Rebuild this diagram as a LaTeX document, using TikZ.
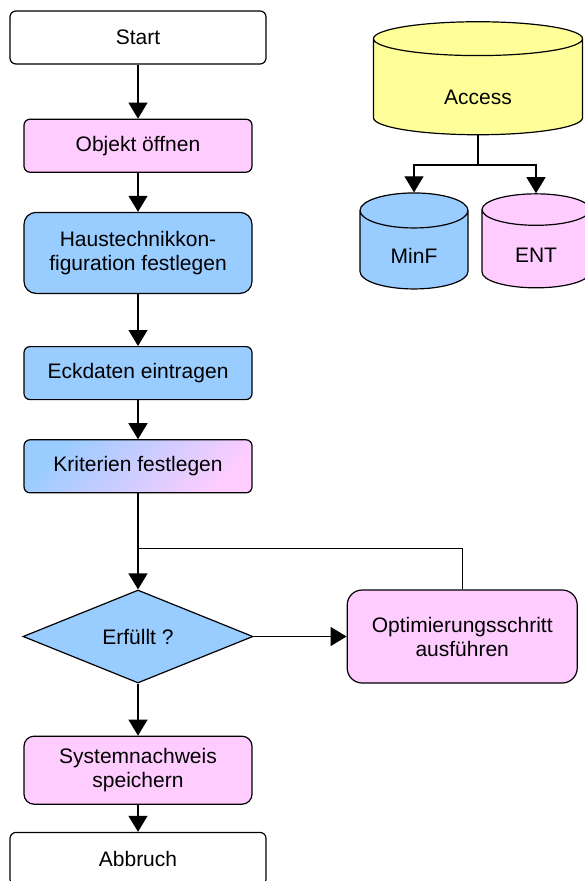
\documentclass[tikz,border=0pt]{standalone}
\usepackage{fontspec}
\setmainfont{Liberation Sans}
\usepackage{tikz}
\usetikzlibrary{arrows.meta,positioning,shapes.geometric,calc}
\definecolor{hellblau}{HTML}{99CCFF}
\definecolor{rosa}{HTML}{FFCCFF}
\definecolor{gelb}{HTML}{FFFF99}
\tikzset{
    schritt/.style={
        rectangle,
        draw,
        line width=1.2pt,
        rounded corners=6pt,
        align=center,
        inner sep=2pt,
        minimum width=228pt,
        minimum height=53pt
    },
    grenze/.style={schritt, fill=white, minimum width=256pt},
    abfrage/.style={
        diamond,
        draw,
        line width=1.2pt,
        align=center,
        inner sep=0pt,
        minimum width=230pt,
        minimum height=93pt,
        fill=hellblau
    },
    datenbank/.style={
        cylinder,
        shape border rotate=90,
        draw,
        line width=1.2pt,
        align=center,
        inner sep=0pt,
        text depth=0pt
    },
    pfeil/.style={-{Triangle[length=16pt, width=19pt]}, line width=1.2pt},
    linie/.style={line width=1.2pt}
}

\begin{document}
\begin{tikzpicture}[x=1pt, y=1pt, node distance=39pt, font=\fontsize{21}{24}\selectfont]
        \useasboundingbox (0,0) rectangle (584,-881);
        \node[grenze] (start) at (138,-37.5) {Start};
        \node[schritt, fill=rosa, below=54pt of start] (oeffnen) {Objekt öffnen};
        \node[schritt, fill=hellblau, minimum height=81pt, rounded corners=12pt,
            below=of oeffnen] (haustechnik) {Haustechnikkon-\\figuration festlegen};
        \node[schritt, fill=hellblau, below=52pt of haustechnik] (eckdaten) {Eckdaten eintragen};
        \node[schritt, top color=hellblau, bottom color=rosa, shading angle=45,
            below=of eckdaten] (kriterien) {Kriterien festlegen};
        \coordinate[below=55pt of kriterien] (rueck);
        \node[abfrage, below=96pt of kriterien] (erfuellt) {Erfüllt ?};
        \node[schritt, fill=rosa, minimum width=230pt, minimum height=93pt,
            rounded corners=15pt, right=93pt of erfuellt] (optimieren)
            {Optimierungsschritt\\ausführen};
        \node[schritt, fill=rosa, minimum height=68pt, rounded corners=10pt,
            below=52pt of erfuellt] (speichern) {Systemnachweis\\speichern};
        \node[grenze, below=27pt of speichern] (abbruch) {Abbruch};

        \node[datenbank, fill=gelb, minimum width=209pt, minimum height=113pt,
            aspect=0.5, text height=34pt] (access) at (478,-87) {Access};
        \node[datenbank, fill=hellblau, minimum width=108pt, minimum height=96pt,
            aspect=0.75, text height=26pt] (minf) at (414,-250) {MinF};
        \node[datenbank, fill=rosa, minimum width=108pt, minimum height=94pt,
            aspect=0.75, text height=26pt] (ent) at (536,-249) {ENT};
        \coordinate (verteiler) at (478,-165);

        \draw[pfeil] (start) -- (oeffnen);
        \draw[pfeil] (oeffnen) -- (haustechnik);
        \draw[pfeil] (haustechnik) -- (eckdaten);
        \draw[pfeil] (eckdaten) -- (kriterien);
        \draw[linie] (kriterien) -- (rueck);
        \draw[pfeil] (rueck) -- (erfuellt);
        \draw[pfeil] (erfuellt) -- (optimieren);
        \draw[linie] (optimieren.north) |- (rueck);
        \draw[pfeil] (erfuellt) -- (speichern);
        \draw[pfeil] (speichern) -- (abbruch);

        \draw[linie] (access.south) -- (verteiler);
        \draw[pfeil] (verteiler) -| (minf.north);
        \draw[pfeil] (verteiler) -| (ent.north);
    \end{tikzpicture}
\end{document}
